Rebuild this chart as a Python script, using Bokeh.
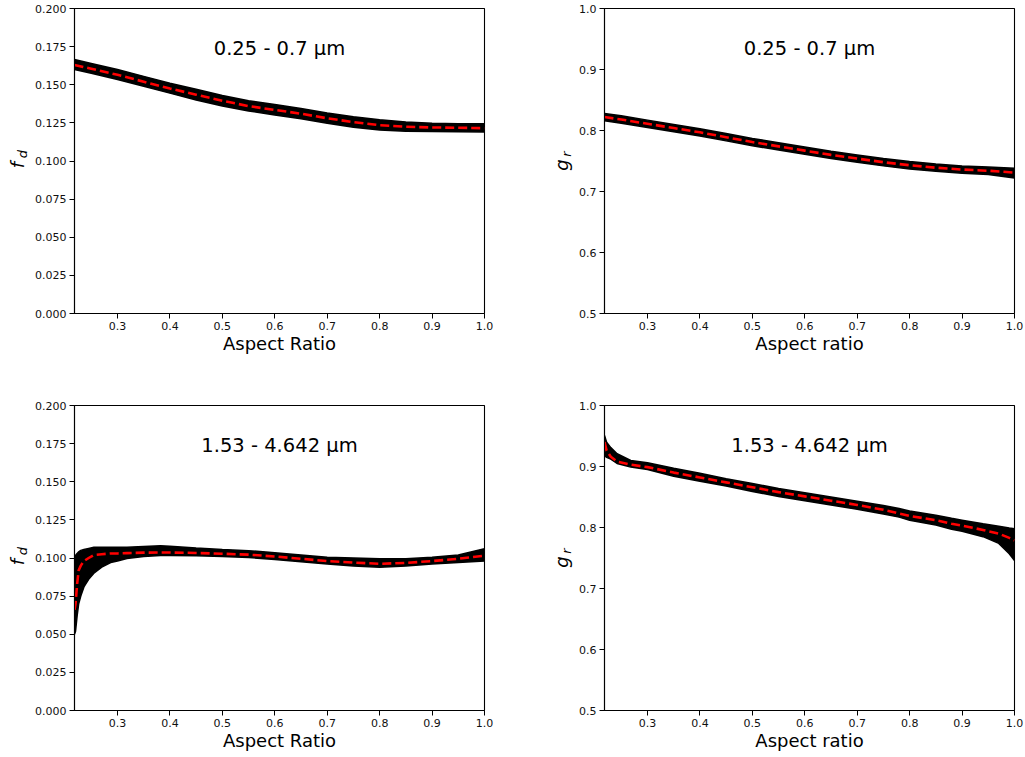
import numpy as np
from bokeh.plotting import figure
from bokeh.layouts import column, row
from bokeh.models import Label, FixedTicker, PrintfTickFormatter, Range1d
from bokeh.embed import file_html
from bokeh.resources import INLINE

# ---------------- data ----------------
x_vis = [0.218, 0.25, 0.3, 0.35, 0.4, 0.45, 0.5, 0.55, 0.6, 0.65, 0.7, 0.75, 0.8, 0.85, 0.9, 0.95, 1.0]
fd_vis_fit = [0.163, 0.1605, 0.1565, 0.152, 0.1475, 0.1435, 0.1395, 0.136, 0.1335, 0.131, 0.128, 0.1255, 0.1235, 0.1225, 0.122, 0.1218, 0.1215]
fd_vis_up = [0.1665, 0.164, 0.160, 0.1555, 0.151, 0.147, 0.143, 0.1395, 0.137, 0.1345, 0.1315, 0.129, 0.127, 0.1255, 0.1248, 0.1245, 0.1245]
fd_vis_lo = [0.160, 0.1575, 0.1535, 0.149, 0.1445, 0.140, 0.136, 0.1328, 0.1302, 0.1277, 0.1248, 0.1222, 0.1203, 0.1195, 0.1193, 0.1192, 0.119]

gr_vis_fit = [0.822, 0.818, 0.811, 0.804, 0.797, 0.789, 0.781, 0.774, 0.767, 0.760, 0.754, 0.748, 0.743, 0.739, 0.736, 0.734, 0.731]
gr_vis_up = [0.828, 0.824, 0.817, 0.810, 0.803, 0.795, 0.787, 0.780, 0.773, 0.766, 0.760, 0.754, 0.749, 0.745, 0.742, 0.740, 0.738]
gr_vis_lo = [0.816, 0.812, 0.805, 0.798, 0.791, 0.783, 0.775, 0.768, 0.761, 0.754, 0.748, 0.742, 0.737, 0.733, 0.730, 0.728, 0.722]

x_fd_ir = [0.218, 0.220, 0.223, 0.226, 0.23, 0.236, 0.245, 0.255, 0.27, 0.287, 0.3, 0.318, 0.35, 0.382, 0.4,
           0.45, 0.5, 0.55, 0.6, 0.65, 0.7, 0.75, 0.8, 0.85, 0.9, 0.95, 1.0]
fd_ir_fit = [0.066, 0.070, 0.083, 0.092, 0.095, 0.098, 0.100, 0.102, 0.1025, 0.103, 0.103, 0.1032, 0.1035, 0.1036, 0.1036,
             0.1033, 0.1028, 0.1022, 0.101, 0.0995, 0.098, 0.097, 0.0962, 0.0968, 0.098, 0.0995, 0.1015]
fd_ir_up = [0.097, 0.1016, 0.103, 0.104, 0.105, 0.1056, 0.1063, 0.107, 0.107, 0.107, 0.107, 0.107, 0.1075, 0.108, 0.1077,
            0.1065, 0.1055, 0.1048, 0.1035, 0.102, 0.1005, 0.100, 0.0995, 0.0995, 0.1005, 0.102, 0.106]
fd_ir_lo = [0.050, 0.052, 0.062, 0.070, 0.075, 0.081, 0.086, 0.090, 0.094, 0.097, 0.098, 0.0997, 0.101, 0.1016, 0.1017,
            0.1015, 0.101, 0.1003, 0.099, 0.0975, 0.096, 0.0948, 0.094, 0.0948, 0.096, 0.097, 0.098]

x_gr_ir = [0.218, 0.222, 0.23, 0.242, 0.268, 0.3, 0.35, 0.4, 0.45, 0.5, 0.55, 0.6, 0.65, 0.7, 0.75, 0.78, 0.8,
           0.85, 0.88, 0.9, 0.94, 0.97, 0.99, 1.0]
gr_ir_fit = [0.940, 0.926, 0.916, 0.908, 0.903, 0.899, 0.890, 0.882, 0.874, 0.866, 0.858, 0.851, 0.844, 0.837, 0.829,
             0.823, 0.819, 0.812, 0.806, 0.803, 0.796, 0.790, 0.783, 0.779]
gr_ir_up = [0.951, 0.940, 0.931, 0.921, 0.910, 0.906, 0.897, 0.889, 0.880, 0.872, 0.864, 0.857, 0.850, 0.843, 0.836,
            0.831, 0.827, 0.820, 0.815, 0.812, 0.806, 0.802, 0.799, 0.798]
gr_ir_lo = [0.918, 0.915, 0.912, 0.905, 0.899, 0.895, 0.884, 0.876, 0.868, 0.859, 0.851, 0.844, 0.837, 0.830, 0.822,
            0.817, 0.812, 0.804, 0.797, 0.794, 0.785, 0.774, 0.757, 0.746]

x_ticks = [0.3, 0.4, 0.5, 0.6, 0.7, 0.8, 0.9, 1.0]
fd_ticks = [0.0, 0.025, 0.05, 0.075, 0.1, 0.125, 0.15, 0.175, 0.2]
gr_ticks = [0.5, 0.6, 0.7, 0.8, 0.9, 1.0]
titles = ["0.25 - 0.7 \u03bcm", "1.53 - 4.642 \u03bcm"]

XMIN, XMAX = 0.218, 1.0
FW, FH = 410, 305
FONT = "DejaVu Sans"


def panel(x, lo, up, fit, ylim, yticks, yfmt, title, xlabel, ylab, ysub,
          bl, br, bt, bb, lab_px, lab_side):
    p = figure(frame_width=FW, frame_height=FH, output_backend="svg", toolbar_location=None,
               x_range=Range1d(XMIN, XMAX), y_range=Range1d(*ylim),
               min_border_left=bl, min_border_right=br, min_border_top=bt, min_border_bottom=bb)
    p.grid.visible = False
    p.outline_line_color = "black"
    p.outline_line_width = 1.1
    p.background_fill_color = "white"
    p.border_fill_color = "white"

    p.varea(x=x, y1=lo, y2=up, fill_color="black")
    p.line(x=x, y=lo, line_color="black", line_width=1.5)
    p.line(x=x, y=up, line_color="black", line_width=1.5)
    p.line(x=x, y=fit, line_color="#ff0000", line_width=2.6, line_dash="9 4")

    p.xaxis.ticker = FixedTicker(ticks=x_ticks)
    p.yaxis.ticker = FixedTicker(ticks=yticks)
    p.xaxis.formatter = PrintfTickFormatter(format="%.1f")
    p.yaxis.formatter = PrintfTickFormatter(format=yfmt)
    for ax in (p.xaxis[0], p.yaxis[0]):
        ax.axis_line_color = "black"
        ax.axis_line_width = 1.1
        ax.major_tick_line_color = "black"
        ax.major_tick_out = 5
        ax.major_tick_in = 0
        ax.minor_tick_line_color = None
        ax.major_label_text_font = FONT
        ax.major_label_text_font_size = "11px"
        ax.major_label_text_color = "#111111"
        ax.major_label_standoff = 3
    p.xaxis.axis_label = xlabel
    p.xaxis.axis_label_text_font = FONT
    p.xaxis.axis_label_text_font_size = "18px"
    p.xaxis.axis_label_text_font_style = "normal"
    p.xaxis.axis_label_text_color = "black"
    p.xaxis.axis_label_standoff = 0

    # title inside the frame
    yr = ylim[1] - ylim[0]
    p.add_layout(Label(x=(XMIN + XMAX) / 2, y=ylim[0] + 0.87 * yr, text=title,
                       text_align="center", text_baseline="middle",
                       text_font=FONT, text_font_size="19.5px", text_color="black"))

    # y-axis label (letter with subscript), held in a side panel so it is not clipped
    dx = (XMAX - XMIN) / FW
    dy = yr / FH
    fx = XMIN - lab_px * dx
    fy = ylim[0] + 0.5 * yr - 4 * dy
    p.add_layout(Label(x=fx, y=fy, text=ylab, angle=np.pi / 2,
                       text_align="center", text_baseline="middle",
                       text_font=FONT, text_font_size="18px", text_font_style="italic",
                       text_color="black"), lab_side)
    p.add_layout(Label(x=fx + 5 * dx, y=fy + 11 * dy, text=ysub, angle=np.pi / 2,
                       text_align="center", text_baseline="middle",
                       text_font=FONT, text_font_size="13px", text_font_style="italic",
                       text_color="black"), lab_side)
    return p


p1 = panel(x_vis, fd_vis_lo, fd_vis_up, fd_vis_fit, (0.0, 0.2), fd_ticks, "%.3f", titles[0],
           "Aspect Ratio", "f", "d", 74, 46, 8, 47, 57, "right")
p2 = panel(x_vis, gr_vis_lo, gr_vis_up, gr_vis_fit, (0.5, 1.0), gr_ticks, "%.1f", titles[0],
           "Aspect ratio", "g", "r", 74, 11, 8, 47, 43, "left")
p3 = panel(x_fd_ir, fd_ir_lo, fd_ir_up, fd_ir_fit, (0.0, 0.2), fd_ticks, "%.3f", titles[1],
           "Aspect Ratio", "f", "d", 74, 46, 45, 47, 57, "right")
p4 = panel(x_gr_ir, gr_ir_lo, gr_ir_up, gr_ir_fit, (0.5, 1.0), gr_ticks, "%.1f", titles[1],
           "Aspect ratio", "g", "r", 74, 11, 45, 47, 43, "left")

layout = column(row(p1, p2), row(p3, p4))
open("out.html", "w").write(file_html(layout, INLINE))
